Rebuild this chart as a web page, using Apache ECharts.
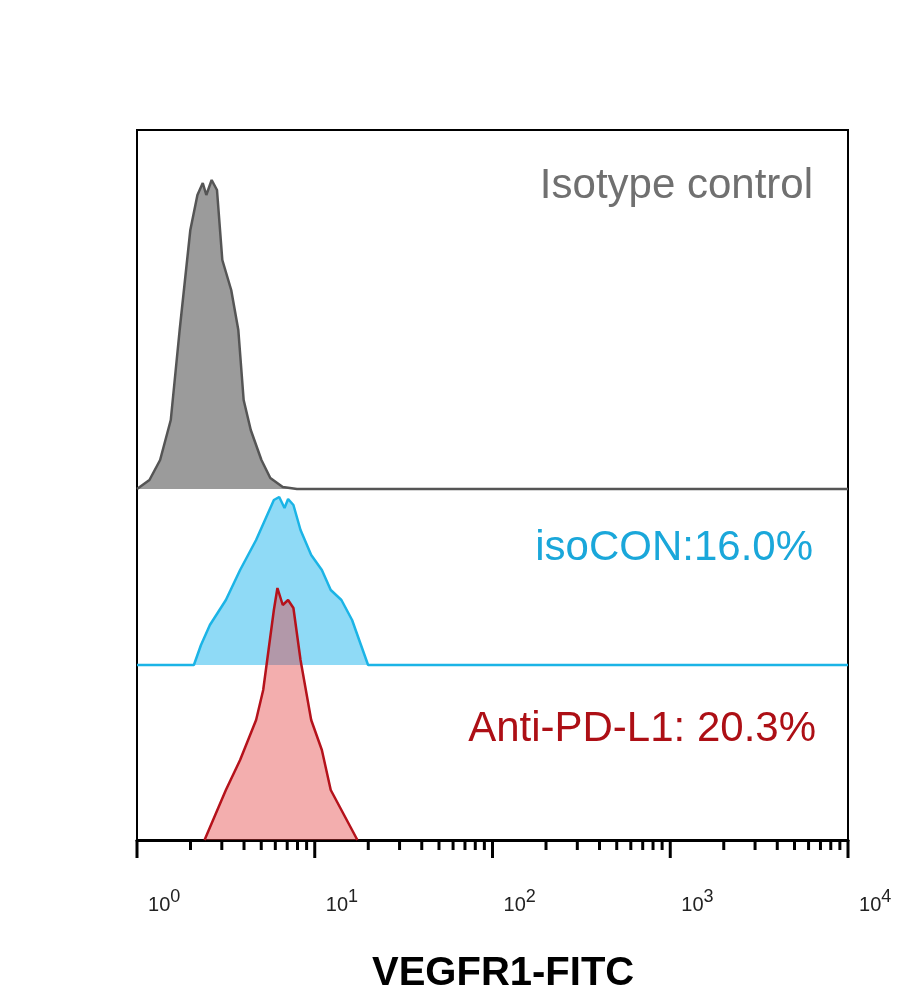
<!DOCTYPE html>
<html lang="en">
<head>
<meta charset="UTF-8">
<title>VEGFR1-FITC</title>
<style>
  html,body{margin:0;padding:0;background:#fff;}
  #main{width:913px;height:1007px;}
</style>
</head>
<body>
<div id="main"></div>
<script src="https://cdn.jsdelivr.net/npm/echarts@6/dist/echarts.min.js"></script>
<script>
// x values are log10(intensity), y values are counts (chart units)
var isoX   = [0, 0.07, 0.13, 0.19, 0.24, 0.30, 0.34, 0.37, 0.39, 0.42, 0.45, 0.48, 0.53, 0.57, 0.60, 0.64, 0.70, 0.75, 0.82, 0.90, 4];
var isoY   = [0, 9, 29, 69, 159, 259, 294, 306, 294, 309, 299, 229, 199, 159, 89, 59, 29, 11, 2, 0, 0];

var conX   = [0, 0.32, 0.36, 0.41, 0.50, 0.58, 0.67, 0.72, 0.77, 0.80, 0.83, 0.85, 0.88, 0.92, 0.98, 1.04, 1.09, 1.15, 1.21, 1.26, 1.30, 4];
var conY   = [0, 0, 20, 40, 65, 95, 125, 145, 165, 168, 157, 166, 160, 135, 110, 95, 75, 65, 45, 20, 0, 0];

var pdX    = [0.38, 0.44, 0.50, 0.58, 0.67, 0.71, 0.74, 0.77, 0.79, 0.82, 0.85, 0.88, 0.92, 0.98, 1.04, 1.09, 1.18, 1.24];
var pdY    = [0, 25, 50, 80, 120, 150, 190, 230, 252, 235, 240, 232, 180, 120, 90, 50, 20, 0];

var majorTicks = [0, 1, 2, 3, 4];
var minorTicks = [];
for (var d = 0; d < 4; d++) {
  for (var k = 2; k <= 9; k++) minorTicks.push(d + Math.log10(k));
}

var isoBase = 351, conBase = 175, pdBase = 0;

function shift(xs, ys, base) {
  var out = [];
  for (var i = 0; i < xs.length; i++) out.push([xs[i], ys[i] + base]);
  return out;
}

function tickSeries(ticks, len) {
  return {
    type: 'custom',
    silent: true,
    z: 5,
    data: ticks.map(function (t) { return [t, 0]; }),
    renderItem: function (params, api) {
      var p = api.coord([api.value(0), 0]);
      return { type: 'line', shape: { x1: p[0], y1: p[1], x2: p[0], y2: p[1] + len },
               style: { stroke: '#000', lineWidth: 3 } };
    }
  };
}

var myChart = echarts.init(document.getElementById('main'));
var option = {
  animation: false,
  grid: { left: 137, right: 65, top: 130, bottom: 167, show: true, borderColor: '#000', borderWidth: 2 },
  xAxis: {
    type: 'value', min: 0, max: 4, interval: 1,
    axisLine: { show: true, lineStyle: { color: '#000', width: 3 } },
    axisTick: { show: false },
    splitLine: { show: false },
    axisLabel: {
      margin: 48,
      align: 'left',
      formatter: function (v) { return '{b|  10}{s|' + v + '}'; },
      rich: {
        b: { fontSize: 20, color: '#222', fontFamily: 'Liberation Sans' },
        s: { fontSize: 18, color: '#222', fontFamily: 'Liberation Sans', verticalAlign: 'bottom', padding: [0, 0, 16, 0] }
      }
    }
  },
  yAxis: { type: 'value', min: 0, max: 710, show: false },
  series: [
    {
      type: 'line', data: shift(isoX, isoY, isoBase), symbol: 'none', z: 2,
      lineStyle: { color: '#555', width: 2.5 },
      areaStyle: { origin: isoBase, color: '#9b9b9b', opacity: 1 }
    },
    {
      type: 'line', data: shift(conX, conY, conBase), symbol: 'none', z: 2,
      lineStyle: { color: '#1bb4e6', width: 2.5 },
      areaStyle: { origin: conBase, color: '#8fdaf6', opacity: 1 }
    },
    {
      type: 'line', data: shift(pdX, pdY, pdBase), symbol: 'none', z: 3,
      lineStyle: { color: '#b5121b', width: 2.5 },
      areaStyle: { origin: pdBase, color: 'rgba(226,62,62,0.6)' }
    },
    tickSeries(majorTicks, 18),
    tickSeries(minorTicks, 10)
  ],
  graphic: [
    { type: 'text', right: 100, top: 165, style: { text: 'Isotype control', font: '42px "Liberation Sans"', fill: '#707070' } },
    { type: 'text', right: 100, top: 527, style: { text: 'isoCON:16.0%', font: '42px "Liberation Sans"', fill: '#1aa7da' } },
    { type: 'text', right: 97, top: 708, style: { text: 'Anti-PD-L1: 20.3%', font: '42px "Liberation Sans"', fill: '#ad0f15' } },
    { type: 'text', left: 372, top: 954, style: { text: 'VEGFR1-FITC', font: 'bold 40px "Liberation Sans"', fill: '#000' } }
  ]
};
myChart.setOption(option);
</script>
</body>
</html>
